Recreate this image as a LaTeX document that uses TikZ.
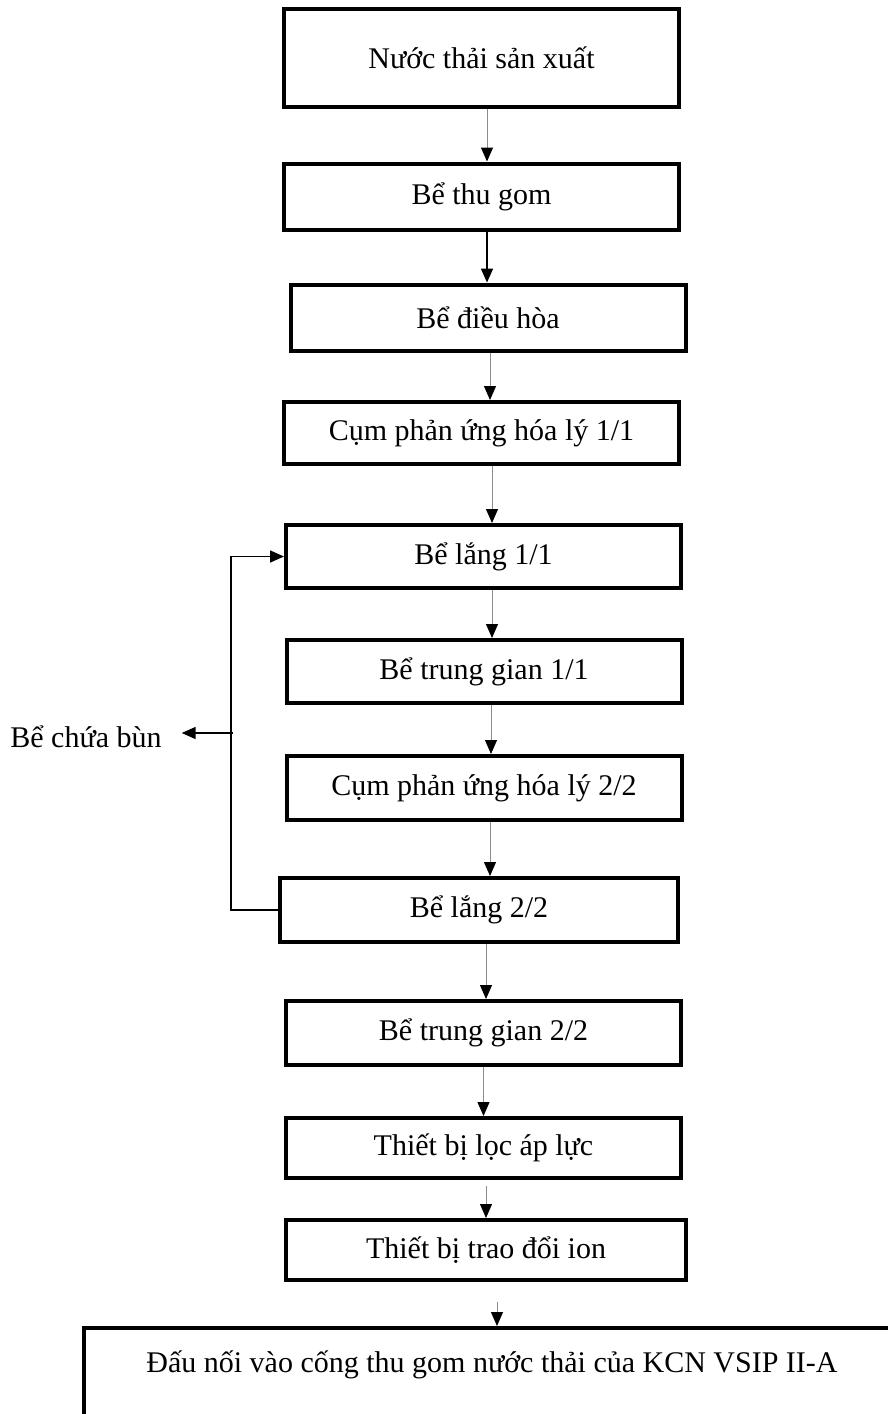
\documentclass[tikz,border=0pt]{standalone}
\usepackage{fontspec}
\setmainfont{Liberation Serif}
\usetikzlibrary{arrows.meta}

\begin{document}
\begin{tikzpicture}[x=0.5pt,y=-0.5pt,font=\fontsize{15}{18}\selectfont]
\tikzset{
% Boxes of the treatment line and the arrows between them
box/.style={draw,line width=2pt,minimum width=197.5pt,minimum height=32pt,inner sep=0},
flow/.style={draw=black!45,line width=0.5pt,-{Triangle[width=6pt,length=7pt,color=black]}},
dark/.style={flow,draw=black,line width=0.9pt},
sludge/.style={draw,line width=0.8pt,-{Triangle[width=6pt,length=7pt]}}
}
\useasboundingbox (0,0) rectangle (888,1414);

% The line, top to bottom
\node(1)[box,minimum height=49pt] at (481.5,57.5) {Nước thải sản xuất};
\node(2)[box,minimum height=33pt] at (481.5,196.5) {Bể thu gom};
\node(3)[box,minimum height=33pt] at (488,317.5) {Bể điều hòa};
\node(4)[box,minimum height=31pt] at (481.5,433) {Cụm phản ứng hóa lý 1/1};
\node(5)[box,minimum height=31.5pt] at (483.5,556.5) {Bể lắng 1/1};
\node(6)[box,minimum height=31.5pt] at (484,671.5) {Bể trung gian 1/1};
\node(7)[box,minimum height=32pt] at (484,788) {Cụm phản ứng hóa lý 2/2};
\node(8)[box,minimum height=32pt,minimum width=199pt] at (479,910) {Bể lắng 2/2};
\node(9)[box,minimum height=32pt] at (483.5,1033) {Bể trung gian 2/2};
\node(10)[box,minimum height=30pt] at (483.5,1148) {Thiết bị lọc áp lực};
\node(11)[box,minimum height=30pt,minimum width=200pt] at (486,1250) {Thiết bị trao đổi ion};
\node(12)[box,minimum width=408pt,anchor=base,text height=22pt,text depth=24pt] at (492,1372) {Đấu nối vào cống thu gom nước thải của KCN VSIP II-A};

% Arrows
\draw[flow] ([xshift=2.75pt]1.south) -- ([xshift=2.75pt]1.south |- 2.north);
\draw[dark] ([xshift=2.75pt]2.south) -- ([xshift=2.75pt]2.south |- 3.north);
\draw[flow] ([xshift=1pt]3.south) -- ([xshift=1pt]3.south |- 4.north);
\draw[flow] ([xshift=5.25pt]4.south) -- ([xshift=5.25pt]4.south |- 5.north);
\draw[flow] ([xshift=4.25pt]5.south) -- ([xshift=4.25pt]5.south |- 6.north);
\draw[flow] ([xshift=3.5pt]6.south) -- ([xshift=3.5pt]6.south |- 7.north);
\draw[flow] ([xshift=3pt]7.south) -- ([xshift=3pt]7.south |- 8.north);
\draw[flow] ([xshift=3.5pt]8.south) -- ([xshift=3.5pt]8.south |- 9.north);
\draw[flow] (9.south) -- (9.south |- 10.north);
\draw[flow,shorten <=3pt] ([xshift=1.25pt]10.south) -- ([xshift=1.25pt]10.south |- 11.north);
\draw[flow,shorten <=10pt] ([xshift=5.5pt]11.south) -- ([xshift=5.5pt]11.south |- 12.north);

% Sludge return and sludge tank
\node(mud) at (86,737) {Bể chứa bùn};
\draw[sludge] (8.west) -- ++(-47,0) |- (5.west);
\coordinate(split) at (233,733);
\draw[sludge,shorten >=6.5pt] (split) -- (mud.east |- split);
\end{tikzpicture}
\end{document}
